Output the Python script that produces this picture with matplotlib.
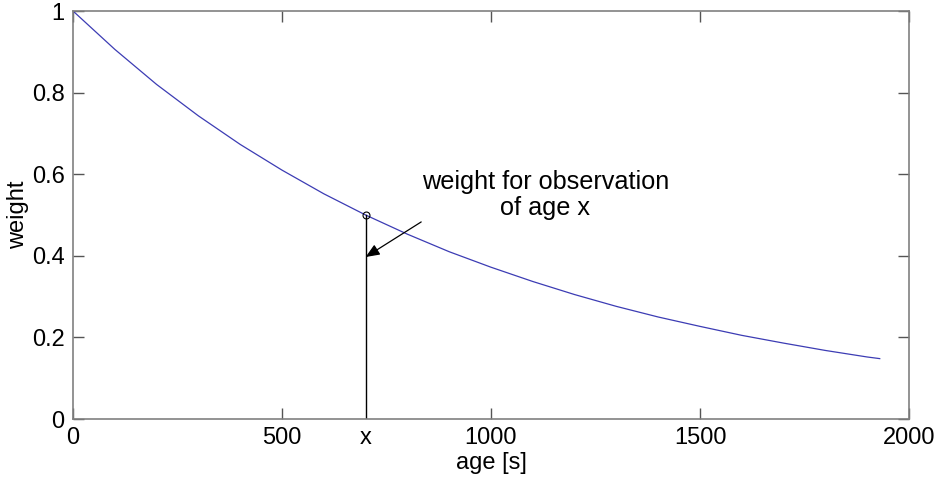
import numpy as np
import matplotlib
matplotlib.use("Agg")
import matplotlib.pyplot as plt

plt.rcParams['font.family'] = ['Liberation Sans', 'DejaVu Sans']

# weight curve, sampled every 100 s
age = [0, 100, 200, 300, 400, 500, 600, 700, 800, 900, 1000,
       1100, 1200, 1300, 1400, 1500, 1600, 1700, 1800, 1900, 1930]
weight = [1.0, 0.906, 0.820, 0.743, 0.673, 0.610, 0.552, 0.500, 0.453, 0.410, 0.372,
          0.337, 0.305, 0.276, 0.250, 0.227, 0.205, 0.186, 0.168, 0.152, 0.148]

obs_age = 700
obs_weight = 0.5

xticks = [0, 500, 700, 1000, 1500, 2000]
xticklabels = ['0', '500', 'x', '1000', '1500', '2000']
yticks = [0, 0.2, 0.4, 0.6, 0.8, 1]
yticklabels = ['0', '0.2', '0.4', '0.6', '0.8', '1']

fig = plt.figure(figsize=(9.4, 4.84), dpi=100)
ax = fig.add_axes([73/940, 65/484, 836/940, 408/484])

ax.plot(age, weight, color='#3c3cb4', lw=0.9)
ax.plot([obs_age, obs_age], [0, obs_weight], color='black', lw=1.0)
ax.plot(obs_age, obs_weight, 'o', mfc='none', mec='black', ms=5, mew=0.8)

ax.annotate('', xy=(obs_age, 0.397), xytext=(833, 0.483),
            arrowprops=dict(arrowstyle='-|>,head_length=0.6,head_width=0.25',
                            color='black', lw=0.9,
                            mutation_scale=14, shrinkA=0, shrinkB=0))
ax.text(1130, 0.55, 'weight for observation\nof age x', ha='center', va='center',
        fontsize=18.2, linespacing=1.1)

ax.set_xlim(0, 2000)
ax.set_ylim(0, 1)
ax.set_xticks(xticks)
ax.set_xticklabels(xticklabels)
ax.set_yticks(yticks)
ax.set_yticklabels(yticklabels)
ax.tick_params(direction='in', length=8, width=1.0, color='#555555',
               top=True, right=True, labelsize=17, pad=6)
ax.xaxis.get_major_ticks()[2].tick1line.set_visible(False)
ax.xaxis.get_major_ticks()[2].tick2line.set_visible(False)
for s in ax.spines.values():
    s.set_color('#808080')
    s.set_linewidth(1.2)

ax.set_xlabel('age [s]', fontsize=17, labelpad=2)
ax.set_ylabel('weight', fontsize=17, labelpad=2)

fig.savefig('out.png', dpi=100)
